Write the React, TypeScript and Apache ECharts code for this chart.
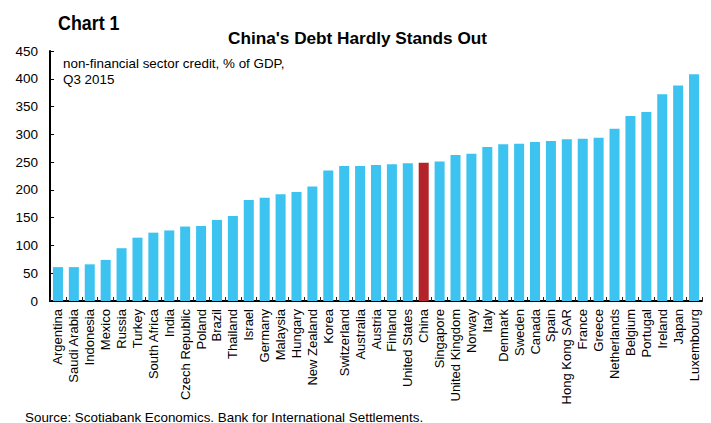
import React, { useEffect, useRef } from "react";
import * as echarts from "echarts";

const categories = [
  "Argentina", "Saudi Arabia", "Indonesia", "Mexico", "Russia", "Turkey", "South Africa", "India",
  "Czech Republic", "Poland", "Brazil", "Thailand", "Israel", "Germany", "Malaysia", "Hungary",
  "New Zealand", "Korea", "Switzerland", "Australia", "Austria", "Finland", "United States", "China",
  "Singapore", "United Kingdom", "Norway", "Italy", "Denmark", "Sweden", "Canada", "Spain",
  "Hong Kong SAR", "France", "Greece", "Netherlands", "Belgium", "Portugal", "Ireland", "Japan", "Luxembourg",
];

const values = [
  61, 61, 66, 74, 95, 114, 123, 127,
  134, 135, 146, 153, 182, 186, 192, 196,
  206, 235, 243, 243, 245, 246, 248, 249,
  251, 263, 265, 277, 282, 283, 286, 288,
  291, 292, 294, 310, 333, 340, 372, 388, 408,
];

const highlighted = "China";
const yTicks = { min: 0, max: 450, interval: 50 };

const BLUE = "#3CC3EF";
const RED = "#B4232A";
const FONT = "'Liberation Sans', Arial, sans-serif";

export default function App() {
  const ref = useRef<HTMLDivElement>(null);
  useEffect(() => {
    document.body.style.margin = "0";
    if (!ref.current) return;
    const chart = echarts.init(ref.current, undefined, { renderer: "svg" });
    chart.setOption({
      animation: false,
      backgroundColor: "#ffffff",
      grid: { left: 50, right: 9, top: 51, bottom: 122, containLabel: false },
      xAxis: {
        type: "category",
        data: categories,
        axisLine: { show: true, lineStyle: { color: "#000", width: 2 } },
        axisTick: { show: true, inside: true, length: 4, interval: 0, lineStyle: { color: "#222", width: 1 } },
        axisLabel: {
          interval: 0,
          rotate: 90,
          margin: 8,
          fontFamily: FONT,
          fontSize: 13,
          color: "#000",
        },
        splitLine: { show: false },
      },
      yAxis: {
        type: "value",
        min: yTicks.min,
        max: yTicks.max,
        interval: yTicks.interval,
        axisLine: { show: true, lineStyle: { color: "#000", width: 2 } },
        axisTick: { show: true, inside: true, length: 4, lineStyle: { color: "#000", width: 1 } },
        axisLabel: { margin: 12, fontFamily: FONT, fontSize: 13.5, color: "#000" },
        splitLine: { show: false },
      },
      series: [
        {
          type: "bar",
          barCategoryGap: "37%",
          data: values.map((v, i) => ({
            value: v,
            itemStyle: { color: categories[i] === highlighted ? RED : BLUE },
          })),
        },
      ],
      graphic: [
        {
          type: "text",
          x: 58,
          y: 22.5,
          scaleX: 0.85,
          style: { text: "Chart 1", font: `bold 21px ${FONT}`, fill: "#000", verticalAlign: "middle" },
        },
        {
          type: "text",
          x: 357.5,
          y: 37.5,
          style: {
            text: "China's Debt Hardly Stands Out",
            font: `bold 17.2px ${FONT}`,
            fill: "#000",
            align: "center",
            verticalAlign: "middle",
          },
        },
        {
          type: "text",
          x: 63,
          y: 55,
          style: {
            text: "non-financial sector credit, % of GDP,\nQ3 2015",
            font: `13.4px ${FONT}`,
            lineHeight: 16,
            fill: "#000",
          },
        },
        {
          type: "text",
          x: 25,
          y: 417,
          style: {
            text: "Source: Scotiabank Economics. Bank for International Settlements.",
            font: `13.4px ${FONT}`,
            fill: "#000",
            verticalAlign: "middle",
          },
        },
      ],
    });
    return () => chart.dispose();
  }, []);
  return <div ref={ref} style={{ width: 711, height: 423 }} />;
}
